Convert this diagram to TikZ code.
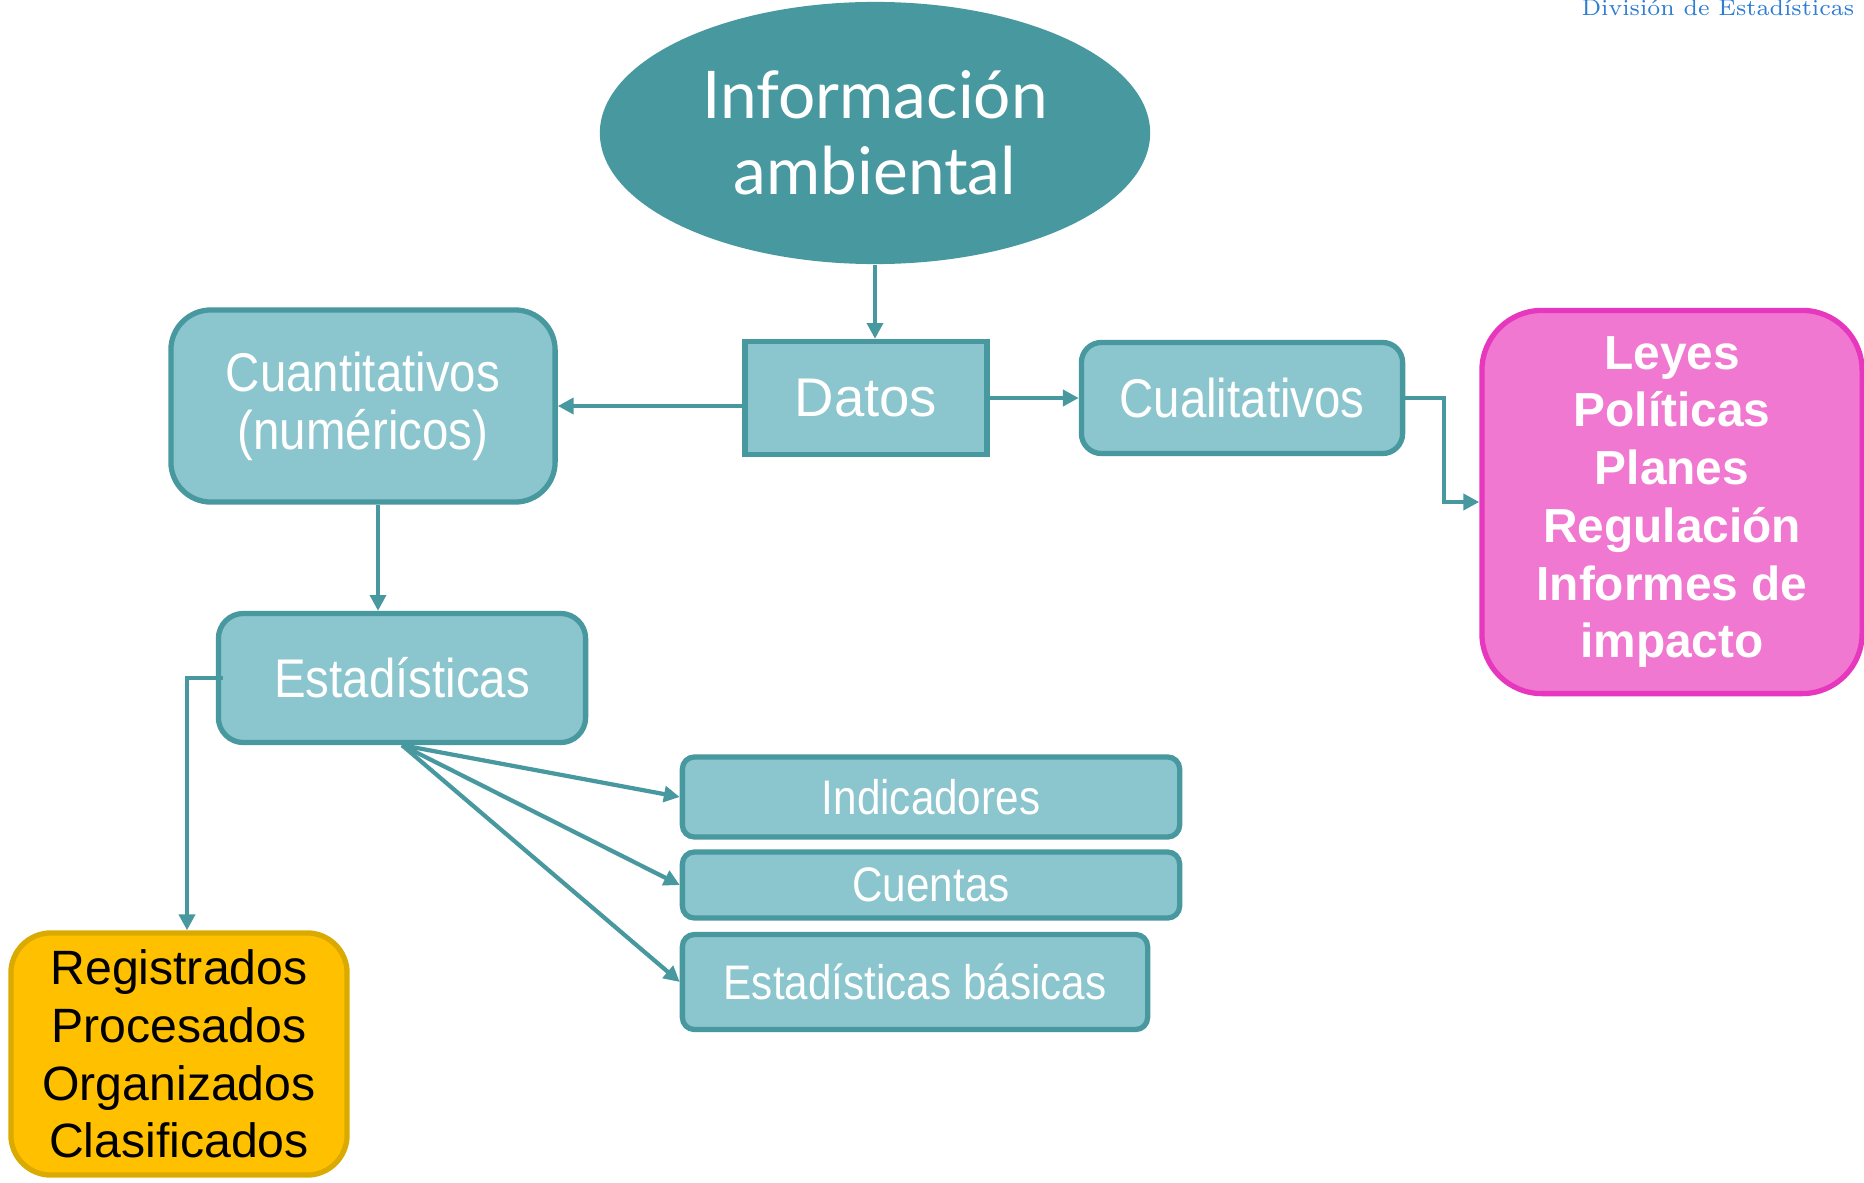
\documentclass[tikz,border=0pt]{standalone}
\usepackage{fontspec}
\newfontfamily\boxfont[FakeStretch=0.87]{Liberation Sans}
\newfontfamily\plainfont{Liberation Sans}
\newfontfamily\titlefont{Lato}
\usetikzlibrary{shapes.geometric,arrows.meta,positioning}

\definecolor{tealdark}{RGB}{72,152,160}
\definecolor{teallight}{RGB}{139,197,205}
\definecolor{pinkfill}{RGB}{240,120,208}
\definecolor{pinkline}{RGB}{230,55,190}
\definecolor{goldfill}{RGB}{255,192,0}
\definecolor{goldline}{RGB}{218,170,0}
\definecolor{headblue}{RGB}{45,125,210}

\begin{document}
\begin{tikzpicture}[x=0.01cm, y=-0.01cm,
        box/.style={rectangle, draw=tealdark, fill=teallight, line width=1.5pt, text=white, align=center, inner sep=0pt},
        big/.style={box, font=\boxfont\fontsize{15.5}{16.5}\selectfont},
        small/.style={box, rounded corners=0.12cm, font=\boxfont\fontsize{13.8}{15}\selectfont},
        arrow/.style={draw=tealdark, line width=1.2pt, -{Triangle[length=4.5pt,width=4.5pt]}}
    ]
        \useasboundingbox (0,0) rectangle (1864,1182);

        % Nodes
        \node[anchor=base east, inner sep=0pt, text=headblue, font=\fontsize{6.5}{8}\selectfont] (header) at (1855,16) {División de Estadísticas};
        \node[ellipse, fill=tealdark, minimum width=5.5cm, minimum height=2.62cm, inner sep=0pt, text=white, align=center, font=\titlefont\fontsize{18.7}{21.6}\selectfont] (info) at (875,133) {Información\\ambiental};
        \node[box, minimum width=2.42cm, minimum height=1.13cm, font=\plainfont\fontsize{15.5}{16.5}\selectfont] (datos) at (866,398) {Datos};
        \node[big, rounded corners=0.4cm, minimum width=3.84cm, minimum height=1.92cm] (cuanti) at (363,406) {Cuantitativos\\(numéricos)};
        \node[big, rounded corners=0.2cm, minimum width=3.21cm, minimum height=1.11cm] (cuali) at (1242,398) {Cualitativos};
        \node[rectangle, draw=pinkline, fill=pinkfill, line width=1.5pt, rounded corners=0.6cm, minimum width=3.8cm, minimum height=3.83cm, inner sep=0pt, text=white, align=center, font=\plainfont\bfseries\fontsize{13.6}{16.4}\selectfont] (politicas) at (1672,502) {Leyes\\Políticas\\Planes\\Regulación\\Informes de\\impacto};
        \node[big, rounded corners=0.25cm, minimum width=3.67cm, minimum height=1.29cm] (estad) at (402,678) {Estadísticas};
        \node[small, minimum width=4.97cm, minimum height=0.8cm] (indic) at (931,797) {Indicadores};
        \node[small, minimum width=4.97cm, minimum height=0.66cm] (cuentas) at (931,885) {Cuentas};
        \node[small, minimum width=4.65cm, minimum height=0.95cm] (basicas) at (915,982) {Estadísticas básicas};
        \node[rectangle, draw=goldline, fill=goldfill, line width=1.5pt, rounded corners=0.4cm, minimum width=3.36cm, minimum height=2.42cm, inner sep=0pt, align=center, font=\plainfont\fontsize{13.7}{16.4}\selectfont] (procesos) at (179,1054) {Registrados\\Procesados\\Organizados\\Clasificados};

        % Arrows
        \draw[arrow] (info.south) -- (info.south |- datos.north);
        \draw[arrow] (datos.west |- cuanti.east) -- (cuanti.east);
        \draw[arrow] (datos.east) -- (cuali.west);
        \draw[arrow] (cuali.east) -- ++(39,0) |- (politicas.west);
        \draw[arrow] ([xshift=0.15cm]cuanti.south) -- ([xshift=0.15cm]cuanti.south |- estad.north);
        \draw[arrow] ([xshift=0.07cm]estad.west) -| ([xshift=0.08cm]procesos.north);
        \draw[arrow] (estad.south) -- (indic.west);
        \draw[arrow] (estad.south) -- (cuentas.west);
        \draw[arrow] (estad.south) -- (basicas.west);

    \end{tikzpicture}
\end{document}
